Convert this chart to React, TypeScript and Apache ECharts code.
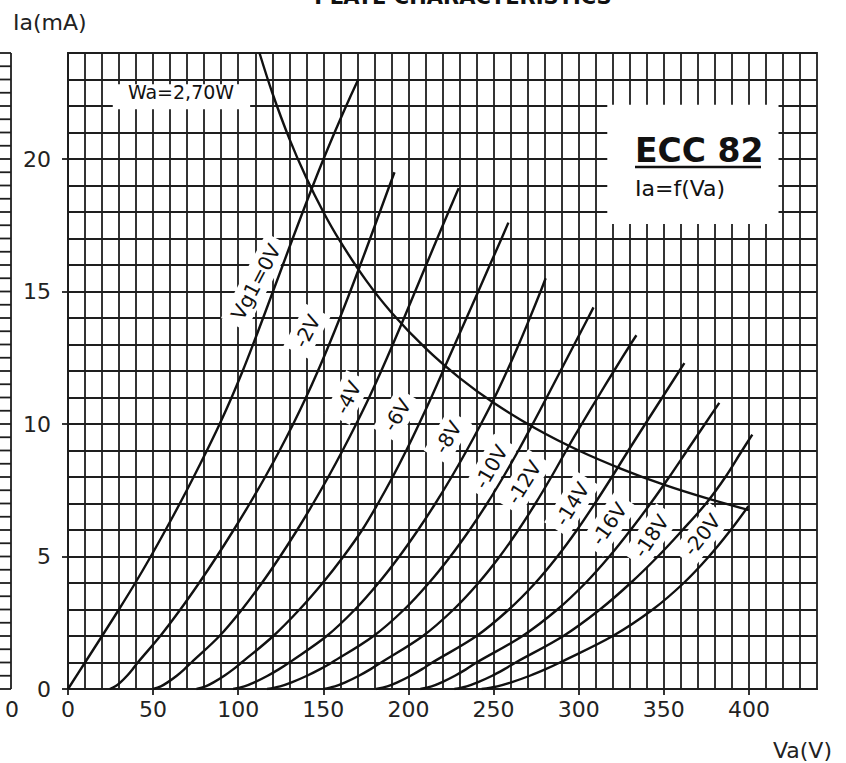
import { useEffect, useRef } from "react";
import * as echarts from "echarts";

// ---- data (Va in V, Ia in mA) ----
const vg0 = [[0,0],[10,1],[20,2],[29.9,3],[39.5,4],[48.6,5],[57.3,6],[65.7,7],[73.8,8],[81.6,9],[89.1,10],[96.1,11],[102.6,12],[108.7,13],[114.6,14],[120.4,15],[126.2,16],[132,17],[137.9,18],[143.9,19],[150.1,20],[156.6,21],[163.4,22],[170.5,23]];
const vgm2 = [[24.5,0],[27.8,0.1],[30.8,0.25],[34.7,0.5],[38,0.75],[41,1],[54.2,2],[66,3],[77,4],[87.4,5],[97.3,6],[106.8,7],[115.8,8],[124.3,9],[132.3,10],[139.8,11],[146.8,12],[153.4,13],[159.7,14],[165.8,15],[171.7,16],[177.5,17],[183.2,18],[188.9,19],[191.8,19.5]];
const vgm4 = [[50,0],[54.5,0.1],[58.5,0.25],[63.9,0.5],[68.4,0.75],[72.5,1],[89,2],[102.2,3],[113.9,4],[124.6,5],[134.6,6],[144,7],[152.9,8],[161.3,9],[169.3,10],[176.9,11],[184,12],[190.8,13],[197.4,14],[203.9,15],[210.4,16],[216.9,17],[223.5,18],[229.5,18.9]];
const vgm6 = [[75.5,0],[80.8,0.1],[85.5,0.25],[91.8,0.5],[97.2,0.75],[102,1],[120.6,2],[136,3],[149.6,4],[161.8,5],[172.8,6],[182.1,7],[190.7,8],[198.7,9],[206.2,10],[213.4,11],[220.3,12],[227.2,13],[234.1,14],[241,15],[247.8,16],[254.7,17],[258.7,17.6]];
const vgm8 = [[97,0],[103.6,0.1],[109.5,0.25],[117.3,0.5],[124,0.75],[130,1],[152,2],[168.6,3],[182.4,4],[194.6,5],[205.6,6],[215.8,7],[225.3,8],[234.2,9],[242.6,10],[250.6,11],[257.9,12],[264.8,13],[271.3,14],[277.6,15],[280.6,15.5]];
const vgm10 = [[117,0],[124.6,0.1],[131.4,0.25],[140.4,0.5],[148.1,0.75],[155,1],[179.5,2],[197.5,3],[212,4],[224.6,5],[235.9,6],[246.2,7],[255.7,8],[264.6,9],[273,10],[281.2,11],[289.3,12],[297.4,13],[305.5,14],[308.7,14.4]];
const vgm12 = [[150,0],[156.8,0.1],[162.9,0.25],[170.9,0.5],[177.8,0.75],[184,1],[208.5,2],[226.5,3],[241.1,4],[253.6,5],[264.6,6],[274.6,7],[283.9,8],[292.7,9],[301.8,10],[311.2,11],[320.7,12],[330.4,13],[333.9,13.35]];
const vgm14 = [[181,0],[187.6,0.1],[193.5,0.25],[201.3,0.5],[208,0.75],[214,1],[240,2],[259,3],[274.5,4],[287.5,5],[299,6],[309.5,7],[319.5,8],[329.2,9],[339.1,10],[349.1,11],[359.1,12],[362.1,12.3]];
const vgm16 = [[207,0],[213.6,0.1],[219.5,0.25],[227.3,0.5],[234,0.75],[240,1],[267,2],[287.5,3],[304,4],[318,5],[330.5,6],[342.2,7],[353.2,8],[363.7,9],[374.2,10],[382.6,10.8]];
const vgm18 = [[227,0],[234.2,0.1],[240.6,0.25],[249.2,0.5],[256.4,0.75],[263,1],[291,2],[312.5,3],[330.5,4],[346.5,5],[361,6],[374.8,7],[386.2,8],[396,9],[402,9.6]];
const vgm20 = [[243,0],[252.2,0.1],[260.4,0.25],[271.3,0.5],[280.6,0.75],[289,1],[320,2],[343.5,3],[361.7,4],[376.5,5],[389.3,6],[399.7,6.9]];
const wa270 = [[112.5,24],[120,22.5],[130,20.77],[140,19.29],[150,18],[160,16.88],[175,15.43],[190,14.21],[210,12.86],[230,11.74],[250,10.8],[275,9.82],[300,9],[325,8.31],[350,7.71],[375,7.2],[400,6.75]];

const curveNames = ["Vg1=0V","-2V","-4V","-6V","-8V","-10V","-12V","-14V","-16V","-18V","-20V"];
const curveData = [vg0, vgm2, vgm4, vgm6, vgm8, vgm10, vgm12, vgm14, vgm16, vgm18, vgm20];
// label anchors in data coordinates (Va, Ia) and text angle in degrees
const labelVa = [110.4, 140.4, 164.5, 193.3, 223.2, 248.5, 267.9, 296.1, 317.8, 342.5, 372.4];
const labelIa = [15.36, 13.5, 11.0, 10.34, 9.5, 8.38, 7.8, 6.98, 6.23, 5.77, 5.81];
const labelAngle = [62, 62, 63, 58, 59, 60, 58, 58, 55, 56, 52];

const xTickValues = [0, 50, 100, 150, 200, 250, 300, 350, 400];
const yTickValues = [0, 5, 10, 15, 20];
const X_MAX = 440;
const Y_MAX = 24;

// ---- layout ----
const W = 846, H = 763;
const GL = 68, GT = 53, GW = 749, GH = 636;
const LINE = "#1e1e1e";
const LW = 1.8;
const FONT = "DejaVu Sans";
const px = (v: number) => GL + (v * GW) / X_MAX;
const py = (i: number) => GT + ((Y_MAX - i) * GH) / Y_MAX;

export default function App() {
  const ref = useRef<HTMLDivElement>(null);
  useEffect(() => {
    if (!ref.current) return;
    const chart = echarts.init(ref.current, null, { renderer: "svg" });
    const lineStyle = { color: LINE, width: LW };

    const curveSeries = curveData.map((d, k) => ({
      name: curveNames[k],
      type: "line",
      data: d,
      showSymbol: false,
      smooth: 0.35,
      lineStyle: { color: "#111", width: 2.4 },
      z: 3,
    }));

    const labels = curveNames.map((t, k) => ({
      type: "text",
      x: px(labelVa[k]),
      y: py(labelIa[k]),
      rotation: (labelAngle[k] * Math.PI) / 180,
      z: 1,
      style: {
        text: t,
        fill: "#111",
        font: `20px '${FONT}'`,
        align: "center",
        verticalAlign: "middle",
        backgroundColor: "#fff",
        padding: [4, 7],
      },
    }));

    // left stub of neighbouring chart
    const stub: any[] = [
      { type: "line", z: 1, shape: { x1: 11, y1: GT, x2: 11, y2: GT + GH }, style: { stroke: LINE, lineWidth: LW } },
      { type: "text", z: 1, x: 12, y: 709, style: { text: "0", fill: "#222", font: `22px '${FONT}'`, align: "center", verticalAlign: "middle" } },
    ];
    for (let k = 0; k <= 48; k++) {
      const y = GT + GH - (k * GH) / 48;
      stub.push({ type: "line", z: 1, shape: { x1: 0, y1: y, x2: 11, y2: y }, style: { stroke: LINE, lineWidth: LW } });
    }

    const graphic: any[] = [
      ...stub,
      // title (cut off at the top, as in the source scan)
      { type: "text", z: 1, x: 463, y: -3, style: { text: "PLATE CHARACTERISTICS", fill: "#111", font: `bold 21px '${FONT}'`, align: "center", verticalAlign: "middle" } },
      { type: "text", z: 1, x: 13, y: 22, style: { text: "Ia(mA)", fill: "#222", font: `22px '${FONT}'`, align: "left", verticalAlign: "middle" } },
      { type: "text", z: 1, x: 832, y: 750, style: { text: "Va(V)", fill: "#222", font: `22px '${FONT}'`, align: "right", verticalAlign: "middle" } },
      // Wa box
      { type: "rect", z: 1, shape: { x: px(26.3), y: py(22.9) + 2, width: px(107) - px(26.3), height: 25 }, style: { fill: "#fff" } },
      { type: "text", z: 1, x: 181, y: 92, style: { text: "Wa=2,70W", fill: "#111", font: `19px '${FONT}'`, align: "center", verticalAlign: "middle" } },
      // ECC 82 box
      { type: "rect", z: 1, shape: { x: px(316.8), y: py(22.05), width: px(417.4) - px(316.8), height: py(17.55) - py(22.05) }, style: { fill: "#fff" } },
      { type: "text", z: 1, x: 635, y: 150, style: { text: "ECC 82", fill: "#111", font: `bold 33px '${FONT}'`, align: "left", verticalAlign: "middle" } },
      { type: "line", z: 1, shape: { x1: 635, y1: 167, x2: 761, y2: 167 }, style: { stroke: "#111", lineWidth: 2.5 } },
      { type: "text", z: 1, x: 635, y: 188, style: { text: "Ia=f(Va)", fill: "#111", font: `22px '${FONT}'`, align: "left", verticalAlign: "middle" } },
      ...labels,
    ];

    chart.setOption({
      animation: false,
      textStyle: { fontFamily: FONT },
      grid: { left: GL, top: GT, width: GW, height: GH, show: true, borderColor: LINE, borderWidth: LW, backgroundColor: "transparent" },
      xAxis: {
        type: "value", min: 0, max: X_MAX, interval: 50,
        axisLine: { show: true, lineStyle },
        axisTick: { show: true, length: 6, lineStyle, customValues: xTickValues },
        axisLabel: { customValues: xTickValues, fontSize: 22, color: "#222", margin: 9, fontFamily: FONT },
        splitLine: { show: true, lineStyle },
        minorTick: { show: false, splitNumber: 5 },
        minorSplitLine: { show: true, lineStyle },
      },
      yAxis: {
        type: "value", min: 0, max: Y_MAX, interval: 5,
        axisLine: { show: true, lineStyle },
        axisTick: { show: true, length: 6, lineStyle, customValues: yTickValues },
        axisLabel: { customValues: yTickValues, fontSize: 22, color: "#222", margin: 17, fontFamily: FONT },
        splitLine: { show: true, lineStyle },
        minorTick: { show: false, splitNumber: 5 },
        minorSplitLine: { show: true, lineStyle },
      },
      series: [
        ...curveSeries,
        { name: "Wa=2,70W", type: "line", data: wa270, showSymbol: false, smooth: 0.35, lineStyle: { color: "#111", width: 2.4 }, z: 3 },
      ],
      graphic,
    });
    return () => chart.dispose();
  }, []);
  return <div ref={ref} style={{ position: "fixed", left: 0, top: 0, width: W, height: H, background: "#fff" }} />;
}
